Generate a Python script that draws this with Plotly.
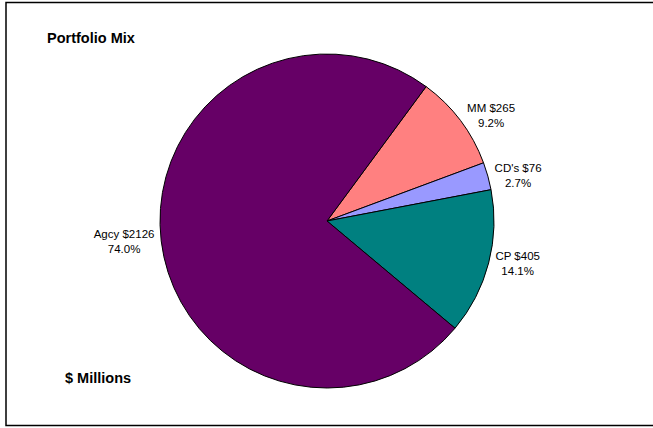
import plotly.graph_objects as go

labels = ["MM", "CD's", "CP", "Agcy"]
values = [265, 76.4, 405, 2126]
colors = ["#FF8080", "#9999FF", "#008080", "#660066"]

W, H = 653, 428
cx, cy, r = 327, 221, 167
FONT = "Liberation Sans, Arial, sans-serif"

fig = go.Figure(go.Pie(
    labels=labels, values=values, sort=False, direction="clockwise",
    rotation=36.4,
    marker=dict(colors=colors, line=dict(color="black", width=1)),
    texttemplate="%{label} $%{value:.0f}<br>%{percent:.1%}",
    textposition="outside",
    textfont=dict(family=FONT, size=11.5, color="black"),
    showlegend=False, hoverinfo="skip",
    domain=dict(x=[(cx - r) / W, (cx + r) / W], y=[(H - cy - r) / H, (H - cy + r) / H]),
))

fig.update_layout(
    width=W, height=H, margin=dict(l=0, r=0, t=0, b=0, autoexpand=False),
    paper_bgcolor="white", plot_bgcolor="white",
    shapes=[dict(type="rect", xref="paper", yref="paper", x0=6 / W, x1=1.01, y0=(H - 425.5) / H, y1=(H - 2.5) / H,
                 line=dict(color="black", width=1.5))],
    annotations=[
        dict(text="<b>Portfolio Mix</b>", x=45 / W, y=(H - 38) / H, xref="paper", yref="paper",
             xanchor="left", yanchor="middle", showarrow=False,
             font=dict(family=FONT, size=14.5, color="black")),
        dict(text="<b>$ Millions</b>", x=63 / W, y=(H - 378) / H, xref="paper", yref="paper",
             xanchor="left", yanchor="middle", showarrow=False,
             font=dict(family=FONT, size=14.5, color="black")),
    ],
)

fig.write_html("out.html")
